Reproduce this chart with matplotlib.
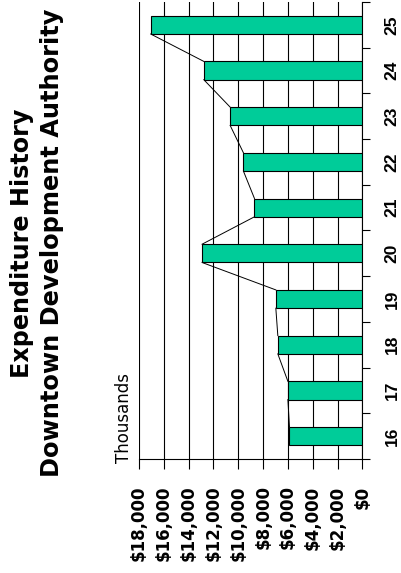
import matplotlib.pyplot as plt
from matplotlib.ticker import FixedLocator

# fiscal years and spending (dollars)
years = ["16", "17", "18", "19", "20", "21", "22", "23", "24", "25"]
spending = [5880, 6010, 6820, 6980, 12920, 8700, 9590, 10660, 12780, 17060]
value_ticks = [0, 2000, 4000, 6000, 8000, 10000, 12000, 14000, 16000, 18000]
value_labels = ["$0", "$2,000", "$4,000", "$6,000", "$8,000", "$10,000",
                "$12,000", "$14,000", "$16,000", "$18,000"]

BAR = "#00CC99"
W = 0.4

fig = plt.figure(figsize=(4.02, 5.73), dpi=100)
ax = fig.add_axes([139 / 402, 1 - 459 / 573, (362.5 - 139) / 402, (459 - 2) / 573])

pos = list(range(len(years)))
ax.barh(pos, spending, height=W, color=BAR, edgecolor="black", linewidth=0.8, zorder=3)

# series lines between bar ends
for i in range(len(years) - 1):
    ax.plot([spending[i], spending[i + 1]], [pos[i] + W / 2, pos[i + 1] - W / 2],
            color="black", linewidth=0.7, zorder=2)

ax.set_xlim(18000, 0)
ax.set_ylim(-0.5, len(years) - 0.5)

ax.set_xticks(value_ticks)
ax.set_xticklabels(value_labels, rotation=90, fontweight="bold", fontsize=12,
                   family="DejaVu Sans", va="top", ha="center")
ax.tick_params(axis="x", direction="out", length=7, width=0.8, pad=12)
ax.grid(axis="x", color="black", linewidth=0.8, zorder=0)

ax.yaxis.tick_right()
ax.set_yticks(pos)
ax.set_yticklabels(years, rotation=90, va="center", ha="left")
for lab in ax.get_yticklabels():
    lab.set_fontfamily(["Liberation Sans", "Arial", "DejaVu Sans"])
    lab.set_fontweight("bold")
    lab.set_fontsize(12.5)
ax.yaxis.set_minor_locator(FixedLocator([p - 0.5 for p in pos] + [len(years) - 0.5]))
ax.tick_params(axis="y", which="major", length=0, pad=16)
ax.tick_params(axis="y", which="minor", direction="out", length=5.5, width=0.8)

for s in ["top", "left"]:
    ax.spines[s].set_visible(False)
for s in ["right", "bottom"]:
    ax.spines[s].set_linewidth(0.8)
ax.set_axisbelow(True)

fig.text(124 / 402, 1 - 463 / 573, "Thousands", rotation=90, fontsize=12,
         ha="center", va="bottom")
fig.text(22.5 / 402, 1 - 243 / 573, "Expenditure History", rotation=90,
         fontsize=17.2, fontweight="bold", ha="center", va="center")
fig.text(52.5 / 402, 1 - 243 / 573, "Downtown Development Authority", rotation=90,
         fontsize=17.4, fontweight="bold", ha="center", va="center")

fig.savefig("out.png", dpi=100)
